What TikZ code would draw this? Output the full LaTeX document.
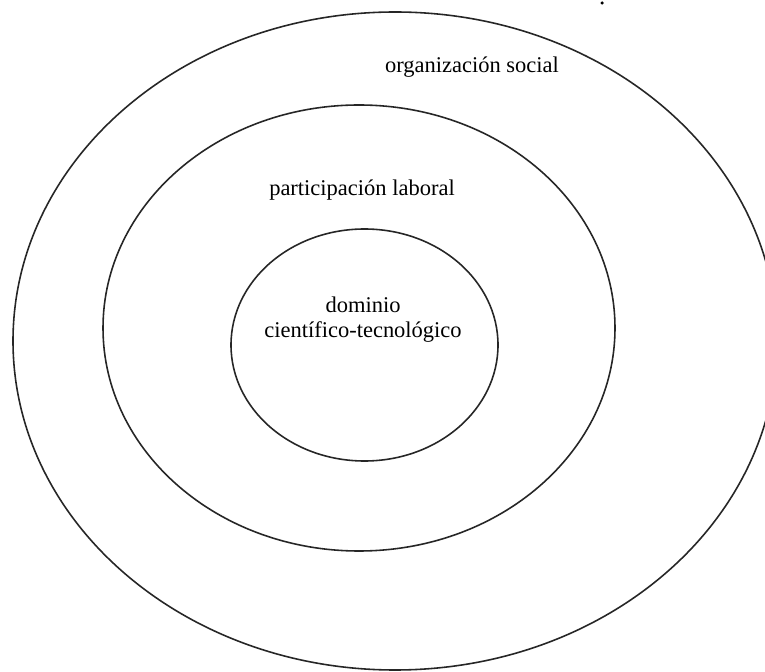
\documentclass[tikz,border=0pt]{standalone}
\usepackage{fontspec}
\setmainfont{Liberation Serif}

\begin{document}
\begin{tikzpicture}[
    anillo/.style={line width=0.9pt, black!85},
    rotulo/.style={font=\fontsize{12.8}{14.2}\selectfont, inner sep=0pt, align=center}
  ]

    % Marco (proporciones de la figura)
    \clip (0,0) rectangle (15.3,13.42);
    \fill[white] (0,0) rectangle (15.3,13.42);

    % Anillos concentricos
    \draw[anillo] (7.90,6.60) ellipse (7.64 and 6.58);   % organizacion social
    \draw[anillo] (7.18,6.86) ellipse (5.12 and 4.46);   % participacion laboral
    \draw[anillo] (7.29,6.52) ellipse (2.67 and 2.32);   % dominio

    % Rotulos
    \node[rotulo, anchor=base] (social) at (9.44,11.96) {organización social};
    \node[rotulo, anchor=base] (laboral) at (7.24,9.50) {participación laboral};
    \node[rotulo] (dominio) at (7.26,7.02) {dominio\\científico-tecnológico};

    % Punto suelto arriba a la derecha
    \fill (12.04,13.36) circle (0.035);

\end{tikzpicture}
\end{document}
